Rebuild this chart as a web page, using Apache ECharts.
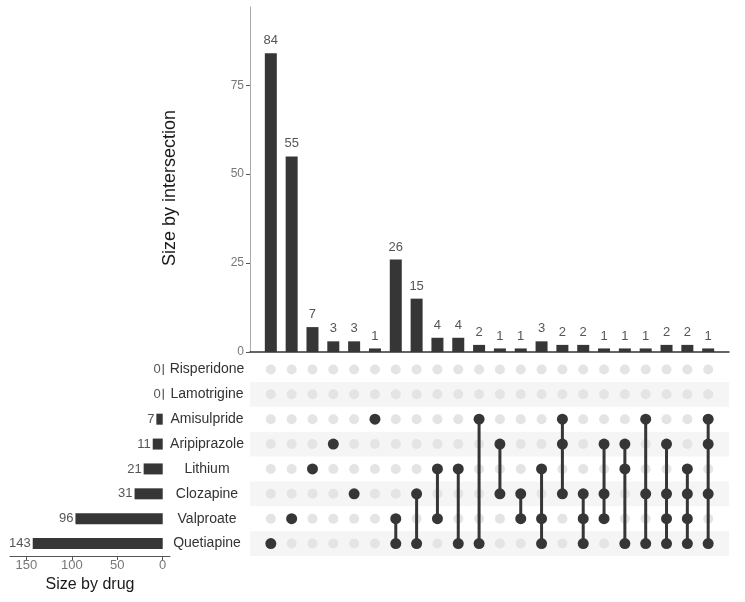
<!DOCTYPE html>
<html>
<head>
<meta charset="utf-8">
<script src="https://cdn.jsdelivr.net/npm/echarts@6/dist/echarts.min.js"></script>
<style>html,body{margin:0;padding:0;background:#fff}#chart{width:745px;height:602px}</style>
</head>
<body>
<div id="chart"></div>
<script>
// Drugs, top to bottom as shown
const drugNames = ['Risperidone','Lamotrigine','Amisulpride','Aripiprazole','Lithium','Clozapine','Valproate','Quetiapine'];
const drugSizes = [0, 0, 7, 11, 21, 31, 96, 143];

// Intersection sizes (left to right)
const intersectionSizes = [84, 55, 7, 3, 3, 1, 26, 15, 4, 4, 2, 1, 1, 3, 2, 2, 1, 1, 1, 2, 2, 1];
// Members of each intersection
const intersectionSets = [
  ['Quetiapine'],
  ['Valproate'],
  ['Lithium'],
  ['Aripiprazole'],
  ['Clozapine'],
  ['Amisulpride'],
  ['Valproate','Quetiapine'],
  ['Clozapine','Quetiapine'],
  ['Lithium','Valproate'],
  ['Lithium','Quetiapine'],
  ['Amisulpride','Quetiapine'],
  ['Aripiprazole','Clozapine'],
  ['Clozapine','Valproate'],
  ['Lithium','Valproate','Quetiapine'],
  ['Amisulpride','Aripiprazole','Clozapine'],
  ['Clozapine','Valproate','Quetiapine'],
  ['Aripiprazole','Clozapine','Valproate'],
  ['Aripiprazole','Lithium','Quetiapine'],
  ['Amisulpride','Clozapine','Quetiapine'],
  ['Aripiprazole','Clozapine','Valproate','Quetiapine'],
  ['Lithium','Clozapine','Valproate','Quetiapine'],
  ['Amisulpride','Aripiprazole','Clozapine','Quetiapine']
];
const topTicks = [0, 25, 50, 75];
const leftTicks = [0, 50, 100, 150];

const DARK = '#363636';
const FONT = 'Liberation Sans, Arial, sans-serif';
const axisCats = drugNames.slice().reverse(); // category axis bottom-up

const chart = echarts.init(document.getElementById('chart'));

const nCols = intersectionSizes.length;
const barData = intersectionSizes.map((v, i) => [i + 1, v]);
const greyDots = [], darkDots = [];
intersectionSets.forEach((set, i) => {
  drugNames.forEach(d => {
    if (set.indexOf(d) >= 0) darkDots.push([i + 1, d]);
    else greyDots.push([i + 1, d]);
  });
});
const lineSeries = [];
intersectionSets.forEach((set, i) => {
  if (set.length > 1) {
    const idx = set.map(d => axisCats.indexOf(d));
    const lo = axisCats[Math.min.apply(null, idx)], hi = axisCats[Math.max.apply(null, idx)];
    lineSeries.push({
      type: 'line', xAxisIndex: 1, yAxisIndex: 1, silent: true,
      data: [[i + 1, lo], [i + 1, hi]], symbol: 'none',
      lineStyle: { color: DARK, width: 3 }, z: 3, animation: false
    });
  }
});

const option = {
  animation: false,
  textStyle: { fontFamily: FONT },
  graphic: [
    { type: 'text', x: 170, y: 188, rotation: Math.PI / 2,
      style: { text: 'Size by intersection', fontSize: 18, fontFamily: FONT, fill: '#1a1a1a',
               align: 'center', verticalAlign: 'middle' } }
  ],
  grid: [
    { left: 250, top: 7, width: 479, height: 345 },
    { left: 250, top: 357, width: 479, height: 199 },
    { left: 10, top: 357, width: 160, height: 199 }
  ],
  xAxis: [
    { gridIndex: 0, type: 'value', min: 0, max: nCols + 1,
      axisLine: { show: true, onZero: false, lineStyle: { color: '#333', width: 1.5 } },
      axisTick: { show: false }, axisLabel: { show: false }, splitLine: { show: false } },
    { gridIndex: 1, type: 'value', min: 0, max: nCols + 1, show: false, splitLine: { show: false } },
    { gridIndex: 2, type: 'value', inverse: true, min: -8, max: 168,
      name: 'Size by drug', nameLocation: 'middle', nameGap: 21,
      nameTextStyle: { fontSize: 16, color: '#1a1a1a' },
      axisLine: { show: true, lineStyle: { color: '#555' } },
      axisTick: { show: true, customValues: leftTicks, length: 4, lineStyle: { color: '#555' } },
      axisLabel: { customValues: leftTicks, fontSize: 13, color: '#777', margin: 3 },
      splitLine: { show: false } }
  ],
  yAxis: [
    { gridIndex: 0, type: 'value', min: 0, max: 97,
      axisLine: { show: true, lineStyle: { color: '#aaa' } },
      axisTick: { show: true, customValues: topTicks, length: 4, lineStyle: { color: '#555' } },
      axisLabel: { customValues: topTicks, fontSize: 12, color: '#777', margin: 6 },
      splitLine: { show: false } },
    { gridIndex: 1, type: 'category', data: axisCats,
      axisLine: { show: false }, axisTick: { show: false },
      axisLabel: { fontSize: 14, color: '#333', align: 'center', margin: 43 },
      splitLine: { show: false },
      splitArea: { show: true, areaStyle: { color: ['#f5f5f5', 'rgba(255,255,255,0)'] } } },
    { gridIndex: 2, type: 'category', data: axisCats, show: false }
  ],
  series: [
    { type: 'bar', xAxisIndex: 0, yAxisIndex: 0, data: barData, barWidth: 12,
      itemStyle: { color: DARK },
      label: { show: true, position: 'top', distance: 6, fontSize: 13, color: '#555' } },
    { type: 'scatter', xAxisIndex: 1, yAxisIndex: 1, data: greyDots, symbolSize: 10,
      itemStyle: { color: '#e4e4e4', opacity: 1 }, z: 2 },
    { type: 'scatter', xAxisIndex: 1, yAxisIndex: 1, data: darkDots, symbolSize: 11,
      itemStyle: { color: DARK, opacity: 1 }, z: 4 },
    ...lineSeries,
    { type: 'bar', xAxisIndex: 2, yAxisIndex: 2, data: drugSizes.slice().reverse(), barWidth: 11,
      barMinHeight: 1, itemStyle: { color: DARK },
      label: { show: true, position: 'left', distance: 2, fontSize: 13, color: '#555' } }
  ]
};
chart.setOption(option);
</script>
</body>
</html>
